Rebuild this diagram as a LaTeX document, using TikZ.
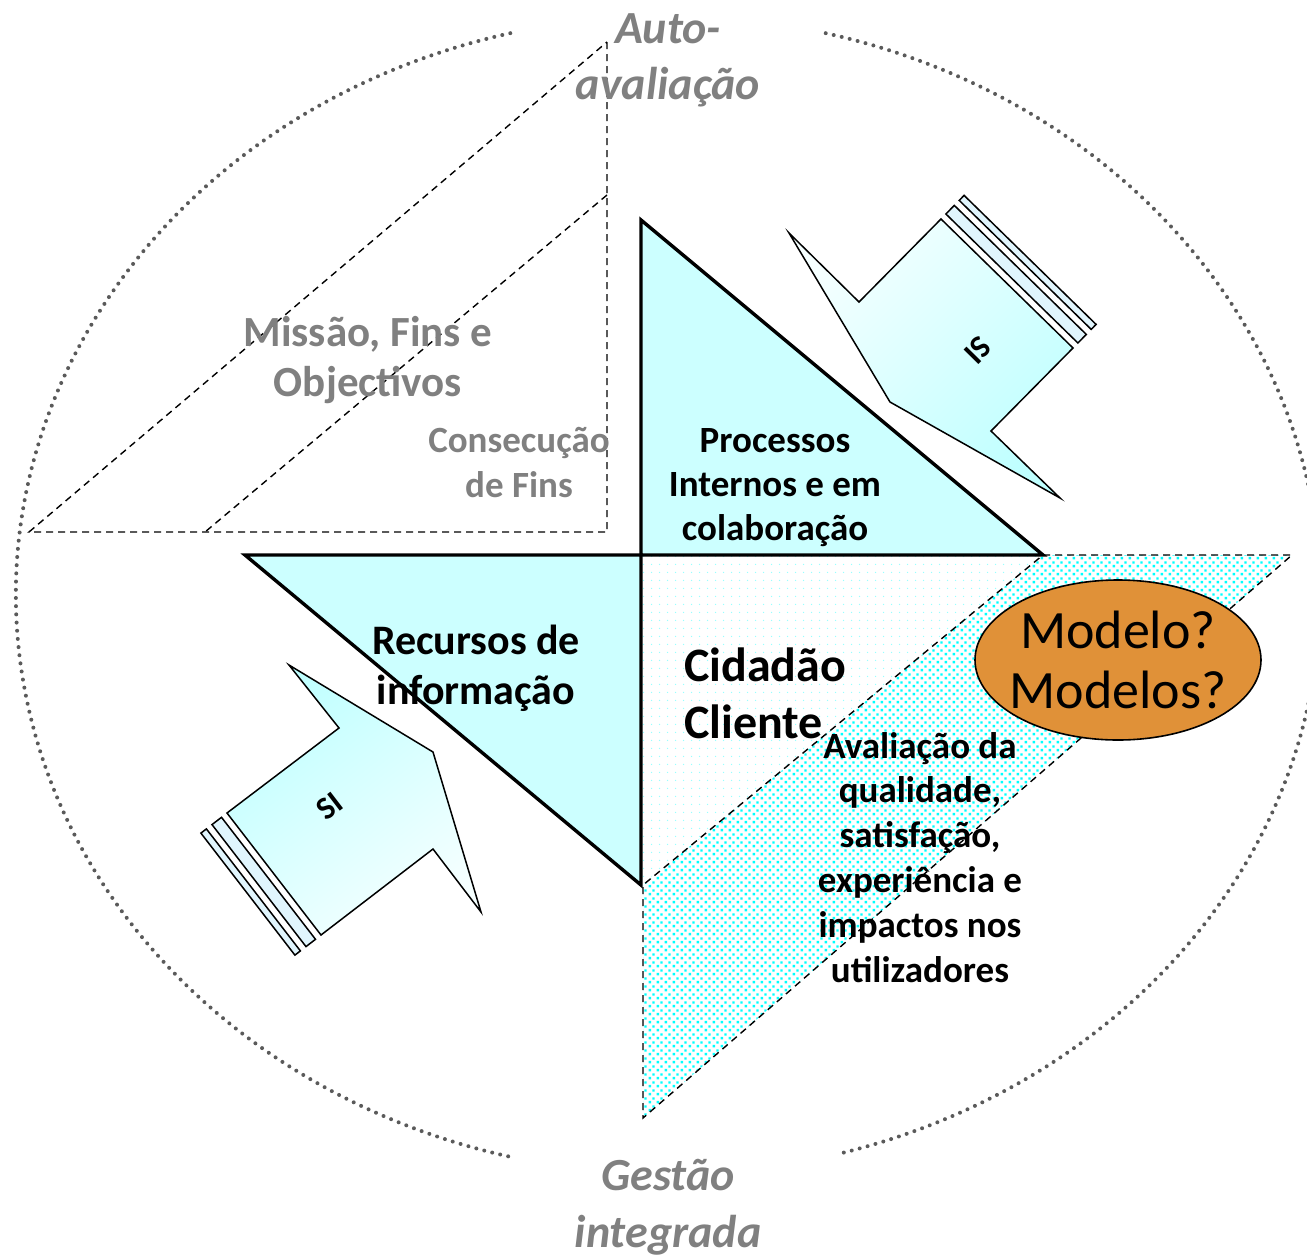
\documentclass[tikz,border=0pt]{standalone}
\usepackage{fontspec}
\setmainfont{Carlito}
\usetikzlibrary{patterns}
\definecolor{tricyan}{RGB}{204,255,255}
\definecolor{txtgray}{RGB}{128,128,128}
\definecolor{circgray}{RGB}{90,90,90}
\definecolor{modorange}{RGB}{224,145,56}
\pgfdeclarepatternformonly{sparsedots}{\pgfqpoint{0pt}{0pt}}{\pgfqpoint{8pt}{8pt}}{\pgfqpoint{8pt}{8pt}}{\pgfpathcircle{\pgfqpoint{4pt}{4pt}}{0.8pt}\pgfusepath{fill}}
\pgfdeclarepatternformonly{densedots}{\pgfqpoint{0pt}{0pt}}{\pgfqpoint{8pt}{8pt}}{\pgfqpoint{8pt}{8pt}}{\pgfpathrectangle{\pgfqpoint{0.8pt}{0.8pt}}{\pgfqpoint{2.6pt}{2.6pt}}\pgfpathrectangle{\pgfqpoint{4.8pt}{4.8pt}}{\pgfqpoint{2.6pt}{2.6pt}}\pgfusepath{fill}}
\newcommand{\blkc}[1]{\begin{tabular}[t]{@{}c@{}}#1\end{tabular}}
\newcommand{\blkl}[1]{\begin{tabular}[t]{@{}l@{}}#1\end{tabular}}
\newcommand{\fsz}[2]{\fontsize{#1}{#2}\selectfont}
\tikzset{
  txt/.style={inner sep=0pt, anchor=base},
  dashln/.style={draw=black, line width=1.4pt, dash pattern=on 7pt off 5pt},
  circdots/.style={draw=circgray, line width=4pt, line cap=round, dash pattern=on 0pt off 8.2pt},
  tri/.style={fill=tricyan, draw=black, line width=3.4pt, line join=miter},
  arrowbody/.style={draw=black, line width=1.5pt, line join=miter},
  stripe/.style={draw=black, line width=1.5pt, fill=cyan!12!white},
  lbl/.style={inner sep=0pt, font=\fsz{32}{38}\bfseries},
}
\begin{document}
\begin{tikzpicture}[x=1pt, y=-1pt]
\useasboundingbox (0,0) rectangle (1307,1256);
\clip (0,0) rectangle (1307,1256);

% outer dotted ellipse (two arcs, gaps for the labels)
\draw[circdots] (668,595) ++(256:652 and 579) arc[start angle=256, end angle=104, x radius=652, y radius=579];
\draw[circdots] (668,595) ++(-76:652 and 579) arc[start angle=-76, end angle=75, x radius=652, y radius=579];

% key points
\coordinate (c) at (641,555);
\coordinate (pt) at (641,220);
\coordinate (pr) at (1043,555);
\coordinate (rl) at (245,555);
\coordinate (rb) at (641,885);
\coordinate (qr) at (1292,555);
\coordinate (qb) at (643,1118);
\coordinate (qm) at (643,885);

% lower-right quadrant (light dots) and evaluation band (dense dots)
\fill[pattern=sparsedots, pattern color=cyan!40] (c) -- (pr) -- (rb) -- cycle;
\fill[pattern=densedots, pattern color=cyan] (pr) -- (qr) -- (qb) -- (qm) -- cycle;
\draw[dashln] (pr) -- (qr) -- (qb) -- (qm) -- (pr);

% upper-left dashed triangle with inner band line
\coordinate (ma) at (607,42);
\coordinate (mb) at (607,532);
\coordinate (mc) at (29,532);
\coordinate (md) at (607,195);
\coordinate (me) at (205,532);
\draw[dashln] (ma) -- (mb) -- (mc) -- cycle;
\draw[dashln] (md) -- (me);

% main triangles
\draw[tri] (pt) -- (c) -- (pr) -- cycle;
\draw[tri] (rl) -- (c) -- (rb) -- cycle;

% IS arrow (pointing down-left)
\draw[arrowbody, top color=cyan!25!white, bottom color=cyan!4!white, shading angle=225]
  (941,219) -- (859,302) -- (789,233) -- (890,402) -- (1060,498) -- (991,431) -- (1073,348) -- cycle;
\draw[stripe] (945.9,214.0) -- (1077.9,343.0) -- (1086.3,334.4) -- (954.3,205.4) -- cycle;
\draw[stripe] (959.2,200.4) -- (1091.2,329.4) -- (1096.1,324.4) -- (964.1,195.4) -- cycle;
\node[lbl, rotate=225.5] (islbl) at (978,350) {SI};

% SI arrow (pointing up-right)
\draw[arrowbody, top color=cyan!25!white, bottom color=cyan!4!white, shading angle=37.5]
  (227,813) -- (339,728) -- (289,665) -- (433,752) -- (481,912) -- (433,849) -- (321,935) -- cycle;
\draw[stripe] (221.5,817.3) -- (315.5,939.3) -- (306.0,946.6) -- (212.0,824.6) -- cycle;
\draw[stripe] (206.4,828.9) -- (300.4,950.9) -- (294.9,955.1) -- (200.9,833.1) -- cycle;
\node[lbl, rotate=37.5] (silbl) at (330,806) {SI};

% Modelo ellipse
\draw[fill=modorange, draw=black, line width=1.6pt] (1118,660) ellipse [x radius=143, y radius=80];
\node[txt, font=\fsz{54}{60}] (modelo) at (1118,648) {\blkc{Modelo?\\Modelos?}};

% texts
\node[txt, font=\fsz{46}{56}\bfseries\itshape, text=txtgray] (auto) at (668,43) {\blkc{Auto-\\avaliação}};
\node[txt, font=\fsz{46}{57}\bfseries\itshape, text=txtgray] (gestao) at (668,1190) {\blkc{Gestão\\integrada}};
\node[txt, font=\fsz{43}{50}\bfseries, text=txtgray] (missao) at (368,346) {\blkc{Missão, Fins e\\Objectivos}};
\node[txt, font=\fsz{37}{45}\bfseries, text=txtgray] (consec) at (519,452) {\blkc{Consecução\\de Fins}};
\node[txt, font=\fsz{37}{44}\bfseries] (proc) at (775,452) {\blkc{Processos\\Internos e em\\colaboração}};
\node[txt, font=\fsz{42}{50}\bfseries] (recur) at (476,654) {\blkc{Recursos de\\informação}};
\node[txt, font=\fsz{48}{57}\bfseries, anchor=base west] (cidadao) at (684,681) {\blkl{Cidadão\\Cliente}};
\node[txt, font=\fsz{37}{44.8}\bfseries] (aval) at (920,758) {\blkc{Avaliação da\\qualidade,\\satisfação,\\experiência e\\impactos nos\\utilizadores}};
\end{tikzpicture}
\end{document}
